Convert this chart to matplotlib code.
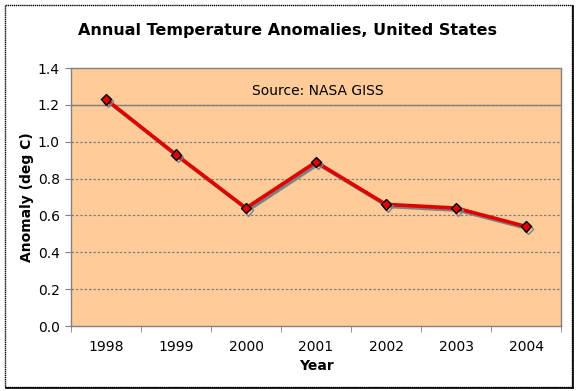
import numpy as np
import matplotlib.pyplot as plt
import matplotlib.patheffects as pe
from matplotlib.patches import Rectangle

years = ['1998', '1999', '2000', '2001', '2002', '2003', '2004']
anomaly = [1.23, 0.93, 0.64, 0.89, 0.66, 0.64, 0.54]
yticks = [0.0, 0.2, 0.4, 0.6, 0.8, 1.0, 1.2, 1.4]

W, H = 576, 391
fig = plt.figure(figsize=(W / 100, H / 100), dpi=100)
fig.patch.set_facecolor('white')

# outer frame of the chart
fig.add_artist(Rectangle((5 / W, 1 - 387 / H), 567 / W, 382 / H, transform=fig.transFigure,
                         fill=False, ec='black', lw=1.0, ls=(0, (1, 0.5))))
fig.add_artist(plt.Line2D([573 / W, 573 / W], [1 - 388 / H, 1 - 6 / H], transform=fig.transFigure,
                          color='black', lw=1.2))
fig.add_artist(plt.Line2D([6 / W, 573 / W], [1 - 388 / H, 1 - 388 / H], transform=fig.transFigure,
                          color='black', lw=1.2))

ax = fig.add_axes([71 / W, 1 - 326 / H, 490 / W, 258 / H])
ax.set_facecolor('#FFCC99')

x = np.arange(len(years))
line, = ax.plot(x, anomaly, color='#E00000', lw=2.6, marker='D', ms=5.5,
                mfc='#E00000', mec='black', mew=1.0, zorder=3)
line.set_path_effects([pe.SimpleLineShadow(offset=(1.5, -1.5), shadow_color='#808080', alpha=1.0),
                       pe.Normal()])

ax.set_xlim(-0.5, len(years) - 0.5)
ax.set_ylim(0, 1.4)
ax.set_yticks(yticks)
ax.set_yticklabels([f'{v:.1f}' for v in yticks], fontsize=10)
ax.set_xticks(x)
ax.set_xticklabels(years, fontsize=10)
ax.set_xticks(np.arange(-0.5, len(years)), minor=True)
ax.tick_params(axis='x', which='major', length=0, pad=10)
ax.tick_params(axis='x', which='minor', length=4, color='#808080', direction='out')
ax.tick_params(axis='y', length=4, color='#808080', direction='out', pad=4)

for v in yticks[1:-1]:
    ax.axhline(v, color='#808080', lw=0.9, ls=(0, (2, 1.5)), zorder=1)
ax.axhline(1.2, color='#808080', lw=1.0, zorder=1)

for s in ax.spines.values():
    s.set_color('#808080')
    s.set_linestyle((0, (1, 1)))
    s.set_linewidth(1.0)

ax.text(0.504, 0.911, 'Source: NASA GISS', transform=ax.transAxes,
        ha='center', va='center', fontsize=10)

ax.set_xlabel('Year', fontsize=10, fontweight='bold', labelpad=4)
ax.set_ylabel('Anomaly (deg C)', fontsize=10, fontweight='bold', labelpad=3)
fig.text(288 / W, 1 - 30 / H, 'Annual Temperature Anomalies, United States',
         ha='center', va='center', fontsize=11.5, fontweight='bold')

fig.savefig('out.png', dpi=100)
